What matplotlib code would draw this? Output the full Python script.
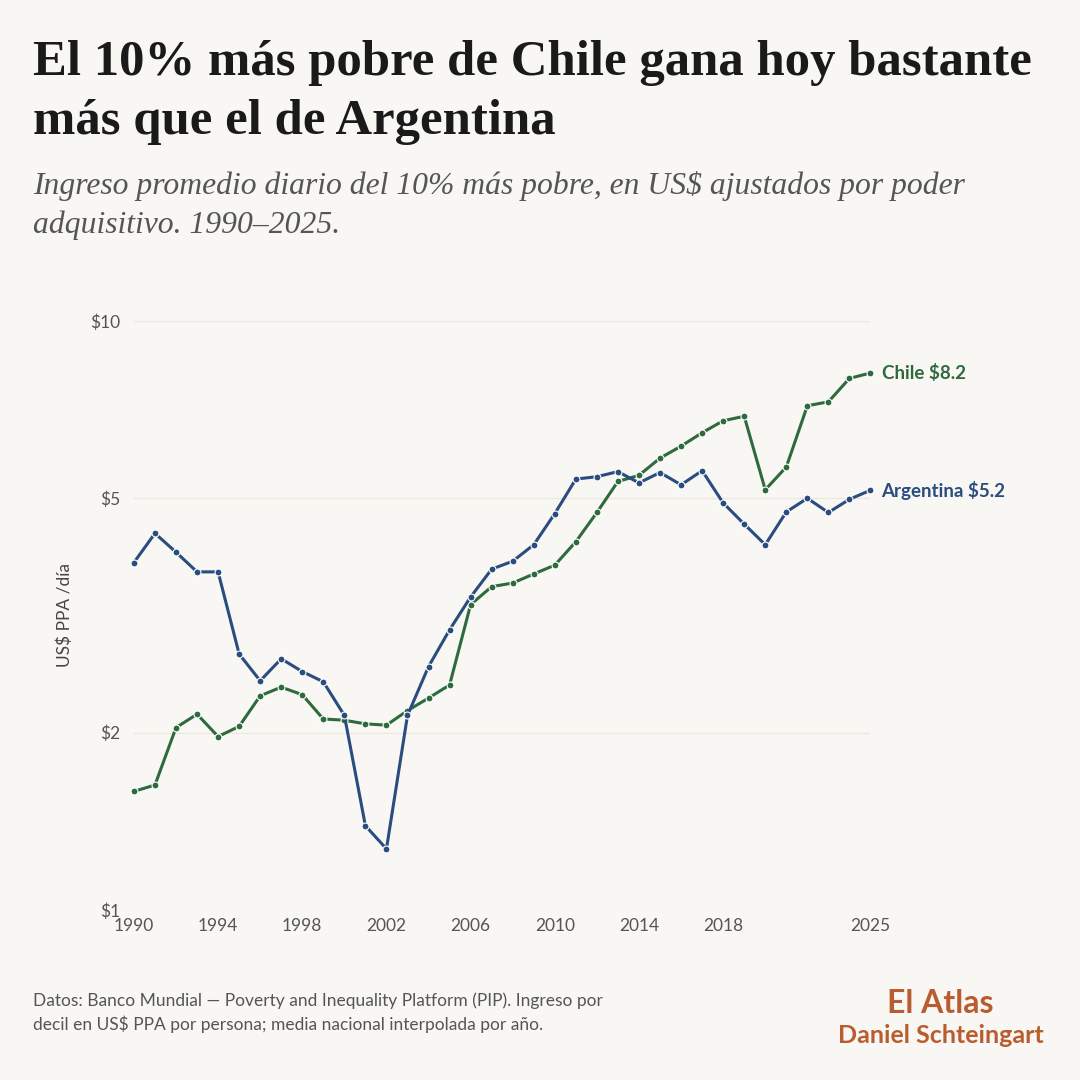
import matplotlib.pyplot as plt
from matplotlib.ticker import FixedLocator, NullLocator

# data (US$ PPA per day, poorest decile)
years = list(range(1990, 2026))
argentina = [3.89, 4.36, 4.05, 3.75, 3.75, 2.72, 2.45, 2.67, 2.54, 2.44,
             2.14, 1.39, 1.27, 2.14, 2.59, 2.99, 3.40, 3.79, 3.91, 4.17,
             4.71, 5.39, 5.44, 5.55, 5.31, 5.53, 5.27, 5.57, 4.91, 4.52,
             4.17, 4.74, 5.00, 4.73, 4.98, 5.16]
chile = [1.59, 1.63, 2.04, 2.15, 1.97, 2.05, 2.31, 2.39, 2.32, 2.11,
         2.10, 2.07, 2.06, 2.18, 2.29, 2.41, 3.30, 3.54, 3.59, 3.72,
         3.85, 4.22, 4.73, 5.34, 5.47, 5.85, 6.13, 6.46, 6.77, 6.89,
         5.17, 5.65, 7.18, 7.29, 7.99, 8.16]
x_ticks = [1990, 1994, 1998, 2002, 2006, 2010, 2014, 2018, 2025]
y_ticks = [1, 2, 5, 10]
y_tick_labels = ["\\$1", "\\$2", "\\$5", "\\$10"]

BG = "#f8f7f3"
BLUE = "#2b4c7e"
GREEN = "#2f6a3e"
GREY = "#555555"
ORANGE = "#b95c2f"
SANS = "Lato"
SERIF = "Liberation Serif"

fig = plt.figure(figsize=(10.8, 10.8), dpi=100, facecolor=BG)
ax = fig.add_axes([0.124, 0.1574, 0.682, 0.5454], facecolor=BG)

for vals, col in [(chile, GREEN), (argentina, BLUE)]:
    ax.plot(years, vals, color=col, lw=2.2, marker="o", ms=5,
            mec="white", mew=0.8, clip_on=False, zorder=3)

ax.set_yscale("log")
ax.set_xlim(1990, 2025)
ax.set_ylim(1, 10)
ax.yaxis.set_major_locator(FixedLocator(y_ticks))
ax.yaxis.set_minor_locator(NullLocator())
ax.set_yticklabels(y_tick_labels)
ax.set_xticks(x_ticks)
ax.grid(axis="y", color="#ebe8e1", lw=1)
ax.tick_params(length=0, labelsize=12.5, labelcolor=GREY, pad=6)
ax.tick_params(axis="y", pad=10)
for lbl in ax.get_xticklabels() + ax.get_yticklabels():
    lbl.set_fontfamily(SANS)
for s in ax.spines.values():
    s.set_visible(False)
ax.set_ylabel("US\\$ PPA /día", fontsize=12.5, color="#444444", family=SANS, labelpad=12)

# end labels
ax.annotate(f"Chile \\${chile[-1]:.1f}", (years[-1], chile[-1]), xytext=(8, 0),
            textcoords="offset points", va="center", ha="left", fontsize=13.5,
            fontweight="bold", color=GREEN, family=SANS, annotation_clip=False)
ax.annotate(f"Argentina \\${argentina[-1]:.1f}", (years[-1], argentina[-1]), xytext=(8, 0),
            textcoords="offset points", va="center", ha="left", fontsize=13.5,
            fontweight="bold", color=BLUE, family=SANS, annotation_clip=False)

# titles
fig.text(0.031, 0.963, "El 10% más pobre de Chile gana hoy bastante\nmás que el de Argentina",
         ha="left", va="top", fontsize=36.5, fontweight="bold", family=SERIF,
         color="#1a1a1a", linespacing=1.36)
fig.text(0.031, 0.842, "Ingreso promedio diario del 10% más pobre, en US\\$ ajustados por poder\nadquisitivo. 1990–2025.",
         ha="left", va="top", fontsize=22.8, style="italic", family=SERIF,
         color=GREY, linespacing=1.42)

# footer
fig.text(0.031, 0.081, "Datos: Banco Mundial — Poverty and Inequality Platform (PIP). Ingreso por\ndecil en US\\$ PPA por persona; media nacional interpolada por año.",
         ha="left", va="top", fontsize=12.5, family=SANS, color=GREY, linespacing=1.45)
fig.text(0.871, 0.057, "El Atlas", ha="center", va="bottom", fontsize=23,
         fontweight="bold", family=SANS, color=ORANGE)
fig.text(0.871, 0.052, "Daniel Schteingart", ha="center", va="top", fontsize=18,
         fontweight="bold", family=SANS, color=ORANGE)

fig.savefig("out.png", dpi=100, facecolor=BG)
